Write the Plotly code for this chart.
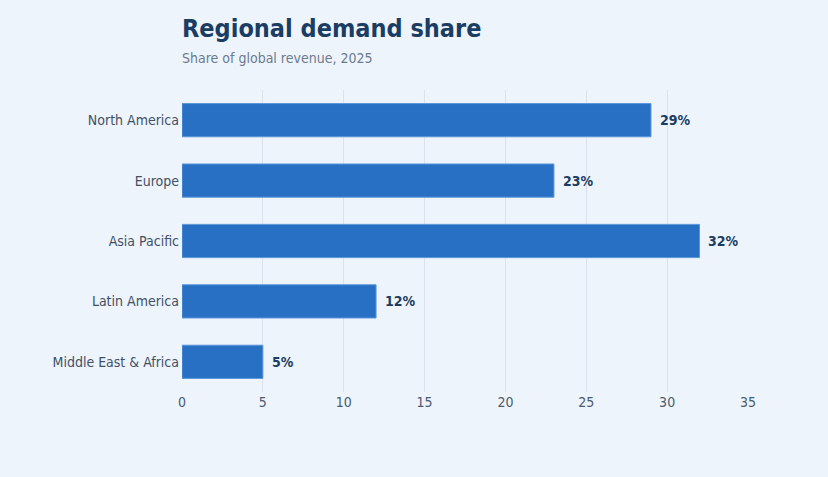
import plotly.graph_objects as go

# Regional share data (percent of global revenue)
regions = ["North America", "Europe", "Asia Pacific", "Latin America", "Middle East & Africa"]
share = [29, 23, 32, 12, 5]
labels = [f"{v}%" for v in share]

FONT = 'DejaVu Sans Condensed, DejaVu Sans'

fig = go.Figure()

fig.add_trace(go.Bar(
    x=share,
    y=regions,
    orientation='h',
    marker=dict(color='#2870c4', line=dict(color='#5b96d8', width=1)),
    hoverinfo='skip'
))

# value labels just past the end of each bar
for region, value, label in zip(regions, share, labels):
    fig.add_annotation(
        x=value, y=region, text=f"<b>{label}</b>",
        xanchor='left', xshift=7, showarrow=False,
        font=dict(family=FONT, size=14, color='#1b3d63')
    )

fig.add_annotation(
    text="Share of global revenue, 2025",
    xref='paper', yref='paper', x=0, y=1,
    xanchor='left', yanchor='bottom', xshift=-2, yshift=22,
    showarrow=False,
    font=dict(family=FONT, size=14, color='#6b7b8e')
)

fig.update_layout(
    width=828,
    height=477,
    paper_bgcolor='#eef4fb',
    plot_bgcolor='#eef4fb',
    margin=dict(l=182, r=80, t=90, b=85),
    bargap=0.45,
    showlegend=False,
    font=dict(family=FONT, size=14, color='#4a5b6e'),
    title=dict(
        text="<b>Regional demand share</b>",
        x=0, xanchor='left', xref='paper',
        y=0.94, yanchor='middle',
        font=dict(family=FONT, size=25, color='#1b3d63')
    ),
    xaxis=dict(
        range=[0, 35],
        dtick=5,
        showgrid=True,
        gridcolor='#d9e3ee',
        zeroline=False,
        showline=False,
        ticks='',
        tickfont=dict(size=14, color='#4a5b6e')
    ),
    yaxis=dict(
        autorange='reversed',
        showgrid=False,
        ticks='',
        ticklabelstandoff=2,
        tickfont=dict(size=14, color='#3f5166')
    )
)

# drop the browser's default page margin so the chart fills the window
fig.write_html(
    "out.html",
    config={'displayModeBar': False},
    post_script="document.body.style.margin = '0';"
)
